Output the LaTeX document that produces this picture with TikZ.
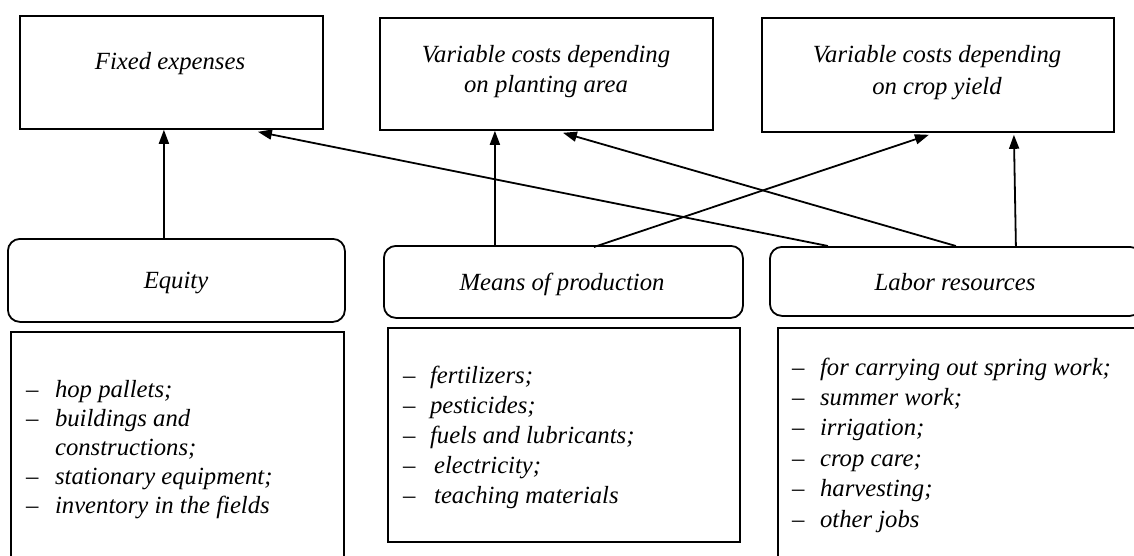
\documentclass[tikz,border=0pt]{standalone}
\usepackage{fontspec}
\setmainfont{Liberation Serif}
\usetikzlibrary{arrows.meta}
\newcommand{\txtsize}[1]{\itshape\fontsize{24.7}{#1}\selectfont}
\tikzset{
  frame/.style={draw, line width=1.8pt, inner sep=0pt, anchor=north west},
  resbox/.style={frame, rounded corners=12pt},
  lbl/.style={inner sep=0pt, anchor=base, font=\txtsize{30}},
  items/.style={inner sep=0pt, anchor=base west},
  arr/.style={line width=1.8pt, -{Triangle[length=14pt,width=10pt]}}
}
\begin{document}
\begin{tikzpicture}[x=1pt,y=-1pt]
\clip (0,0) rectangle (1134,556);
\fill[white] (0,0) rectangle (1134,556);

% cost categories
\node[frame, minimum width=303pt, minimum height=113pt] (fixed) at (19,15) {};
\node[frame, minimum width=333pt, minimum height=112pt] (area) at (379,17) {};
\node[frame, minimum width=352pt, minimum height=114pt] (yield) at (761,17) {};

\node[lbl] at (170,70) {Fixed expenses};
\node[lbl] at (546,63) {\begin{tabular}[t]{@{}c@{}}Variable costs depending\\on planting area\end{tabular}};
\node[lbl, font=\txtsize{32}] at (937,63) {\begin{tabular}[t]{@{}c@{}}Variable costs depending\\on crop yield\end{tabular}};

% resources
\node[resbox, minimum width=337pt, minimum height=83pt] (equity) at (7,238) {};
\node[resbox, minimum width=359pt, minimum height=72pt] (means) at (383,245) {};
\node[resbox, minimum width=372pt, minimum height=69pt] (labor) at (769,246) {};

\node[lbl] at (176,288) {Equity};
\node[lbl] at (562,290) {Means of production};
\node[lbl] at (955,290) {Labor resources};

% item lists
\node[frame, minimum width=333pt, minimum height=250pt] (eqlist) at (10,331) {};
\node[frame, minimum width=352pt, minimum height=214pt] (mplist) at (387,327) {};
\node[frame, minimum width=380pt, minimum height=250pt] (lrlist) at (777,327) {};

\node[items, font=\txtsize{29}] at (26,397) {\begin{tabular}[t]{@{}l@{\hspace{16.5pt}}l@{}}
–& hop pallets;\\
–& buildings and\\
 & constructions;\\
–& stationary equipment;\\
–& inventory in the fields
\end{tabular}};

\node[items, font=\txtsize{30}] at (403,383) {\begin{tabular}[t]{@{}l@{\hspace{14.5pt}}l@{}}
–& fertilizers;\\
–& pesticides;\\
–& fuels and lubricants;\\
–& \,electricity;\\
–& \,teaching materials
\end{tabular}};

\node[items, font=\txtsize{30.4}] at (792,375) {\begin{tabular}[t]{@{}l@{\hspace{15.5pt}}l@{}}
–& for carrying out spring work;\\
–& summer work;\\
–& irrigation;\\
–& crop care;\\
–& harvesting;\\
–& other jobs
\end{tabular}};

% influences
\draw[arr] ([xshift=-12.5pt]equity.north) -- ([xshift=-7.5pt]fixed.south);
\draw[arr] ([xshift=-68.5pt]means.north) -- ([xshift=-51.5pt]area.south);
\draw[arr] ([xshift=30.5pt,yshift=-2pt]means.north) -- ([xshift=-9pt,yshift=-2pt]yield.south);
\draw[arr] ([xshift=-128pt]labor.north) -- ([xshift=86.5pt,yshift=-2pt]fixed.south);
\draw[arr] (labor.north) -- ([xshift=16.5pt,yshift=-2pt]area.south);
\draw[arr] ([xshift=60pt]labor.north) -- ([xshift=76pt,yshift=-2pt]yield.south);
\end{tikzpicture}
\end{document}
